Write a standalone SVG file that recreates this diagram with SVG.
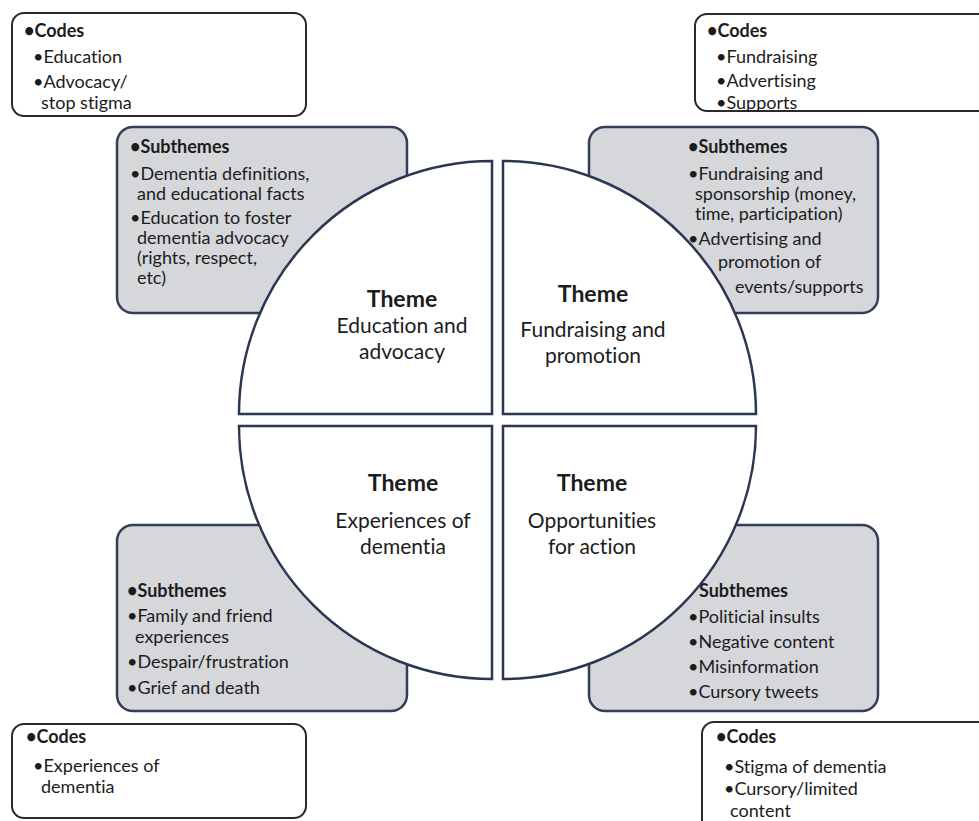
<svg xmlns="http://www.w3.org/2000/svg" width="979" height="821" viewBox="0 0 979 821">
<style>
text{font-family:Lato,"Open Sans","Liberation Sans",sans-serif;fill:#1c1c1c;font-variant-ligatures:none}
.code{fill:#fff;stroke:#2a2a2a;stroke-width:2}
.sub{fill:#d5d7db;stroke:#343f57;stroke-width:2.5}
.quad{fill:#fff;stroke:#2b3650;stroke-width:2.5;stroke-linejoin:miter}
.ct{font-size:18px}
.st{font-size:18px}
.b{font-weight:bold}
.th{font-size:21px;text-anchor:middle}
.tb{font-size:23px;font-weight:bold;text-anchor:middle}
</style>
<rect width="979" height="821" fill="#fff"/>

<g id="codes-tl">
<rect class="code" x="12" y="13" width="294" height="103" rx="12"/>
<text class="ct"><tspan class="b" x="24" y="37">•Codes</tspan><tspan x="33" y="63">•Education</tspan><tspan x="33" y="88">•Advocacy/</tspan><tspan x="41" y="109">stop stigma</tspan></text>
</g>
<g id="codes-tr">
<rect class="code" x="695" y="14" width="310" height="97" rx="12"/>
<text class="ct"><tspan class="b" x="707" y="37">•Codes</tspan><tspan x="716" y="63">•Fundraising</tspan><tspan x="716" y="87">•Advertising</tspan><tspan x="716" y="109">•Supports</tspan></text>
</g>
<g id="codes-bl">
<rect class="code" x="12" y="724" width="294" height="94" rx="12"/>
<text class="ct"><tspan class="b" x="26" y="743">•Codes</tspan><tspan x="33" y="772">•Experiences of</tspan><tspan x="41" y="793">dementia</tspan></text>
</g>
<g id="codes-br">
<rect class="code" x="702" y="722" width="310" height="120" rx="12"/>
<text class="ct"><tspan class="b" x="716" y="743">•Codes</tspan><tspan x="724" y="773">•Stigma of dementia</tspan><tspan x="724" y="795">•Cursory/limited</tspan><tspan x="730" y="817">content</tspan></text>
</g>

<g id="sub-tl">
<rect class="sub" x="117" y="127" width="290" height="186" rx="16"/>
<text class="st"><tspan class="b" x="130" y="153">•Subthemes</tspan><tspan x="130" y="180">•Dementia definitions,</tspan><tspan x="137" y="200">and educational facts</tspan><tspan x="130" y="224">•Education to foster</tspan><tspan x="137" y="244">dementia advocacy</tspan><tspan x="137" y="264">(rights, respect,</tspan><tspan x="137" y="284">etc)</tspan></text>
</g>
<g id="sub-tr">
<rect class="sub" x="589" y="127" width="289" height="186" rx="16"/>
<text class="st"><tspan class="b" x="688" y="153">•Subthemes</tspan><tspan x="688" y="180">•Fundraising and</tspan><tspan x="695" y="200">sponsorship (money,</tspan><tspan x="695" y="220">time, participation)</tspan></text>
</g>
<g id="sub-bl">
<rect class="sub" x="117" y="525" width="290" height="186" rx="16"/>
<text class="st"><tspan class="b" x="127" y="597">•Subthemes</tspan><tspan x="127" y="622">•Family and friend</tspan><tspan x="135" y="643">experiences</tspan><tspan x="127" y="668">•Despair/frustration</tspan><tspan x="127" y="694">•Grief and death</tspan></text>
</g>
<g id="sub-br">
<rect class="sub" x="589" y="525" width="289" height="186" rx="16"/>
<text class="st"><tspan class="b" x="699" y="597">Subthemes</tspan><tspan x="688" y="623">•Politicial insults</tspan><tspan x="688" y="648">•Negative content</tspan><tspan x="688" y="673">•Misinformation</tspan><tspan x="688" y="698">•Cursory tweets</tspan></text>
</g>

<g id="theme-tl">
<path class="quad" d="M492,414 L239,414 A253,253 0 0 1 492,161 Z"/>
<text class="tb" x="402" y="307">Theme</text>
<text class="th"><tspan x="402" y="333">Education and</tspan><tspan x="402" y="359">advocacy</tspan></text>
</g>
<g id="theme-tr">
<path class="quad" d="M503,414 L503,161 A253,253 0 0 1 756,414 Z"/>
<text class="tb" x="593" y="302">Theme</text>
<text class="th"><tspan x="593" y="337">Fundraising and</tspan><tspan x="593" y="363">promotion</tspan></text>
</g>
<g id="theme-bl">
<path class="quad" d="M492,426 L492,679 A253,253 0 0 1 239,426 Z"/>
<text class="tb" x="403" y="491">Theme</text>
<text class="th"><tspan x="403" y="528">Experiences of</tspan><tspan x="403" y="554">dementia</tspan></text>
</g>
<g id="theme-br">
<path class="quad" d="M503,426 L756,426 A253,253 0 0 1 503,679 Z"/>
<text class="tb" x="592" y="491">Theme</text>
<text class="th"><tspan x="592" y="528">Opportunities</tspan><tspan x="592" y="554">for action</tspan></text>
</g>

<g id="sub-tr-rest">
<text class="st"><tspan x="688" y="245">•Advertising and</tspan><tspan x="718" y="268">promotion of</tspan><tspan x="735" y="293">events/supports</tspan></text>
</g>
</svg>
